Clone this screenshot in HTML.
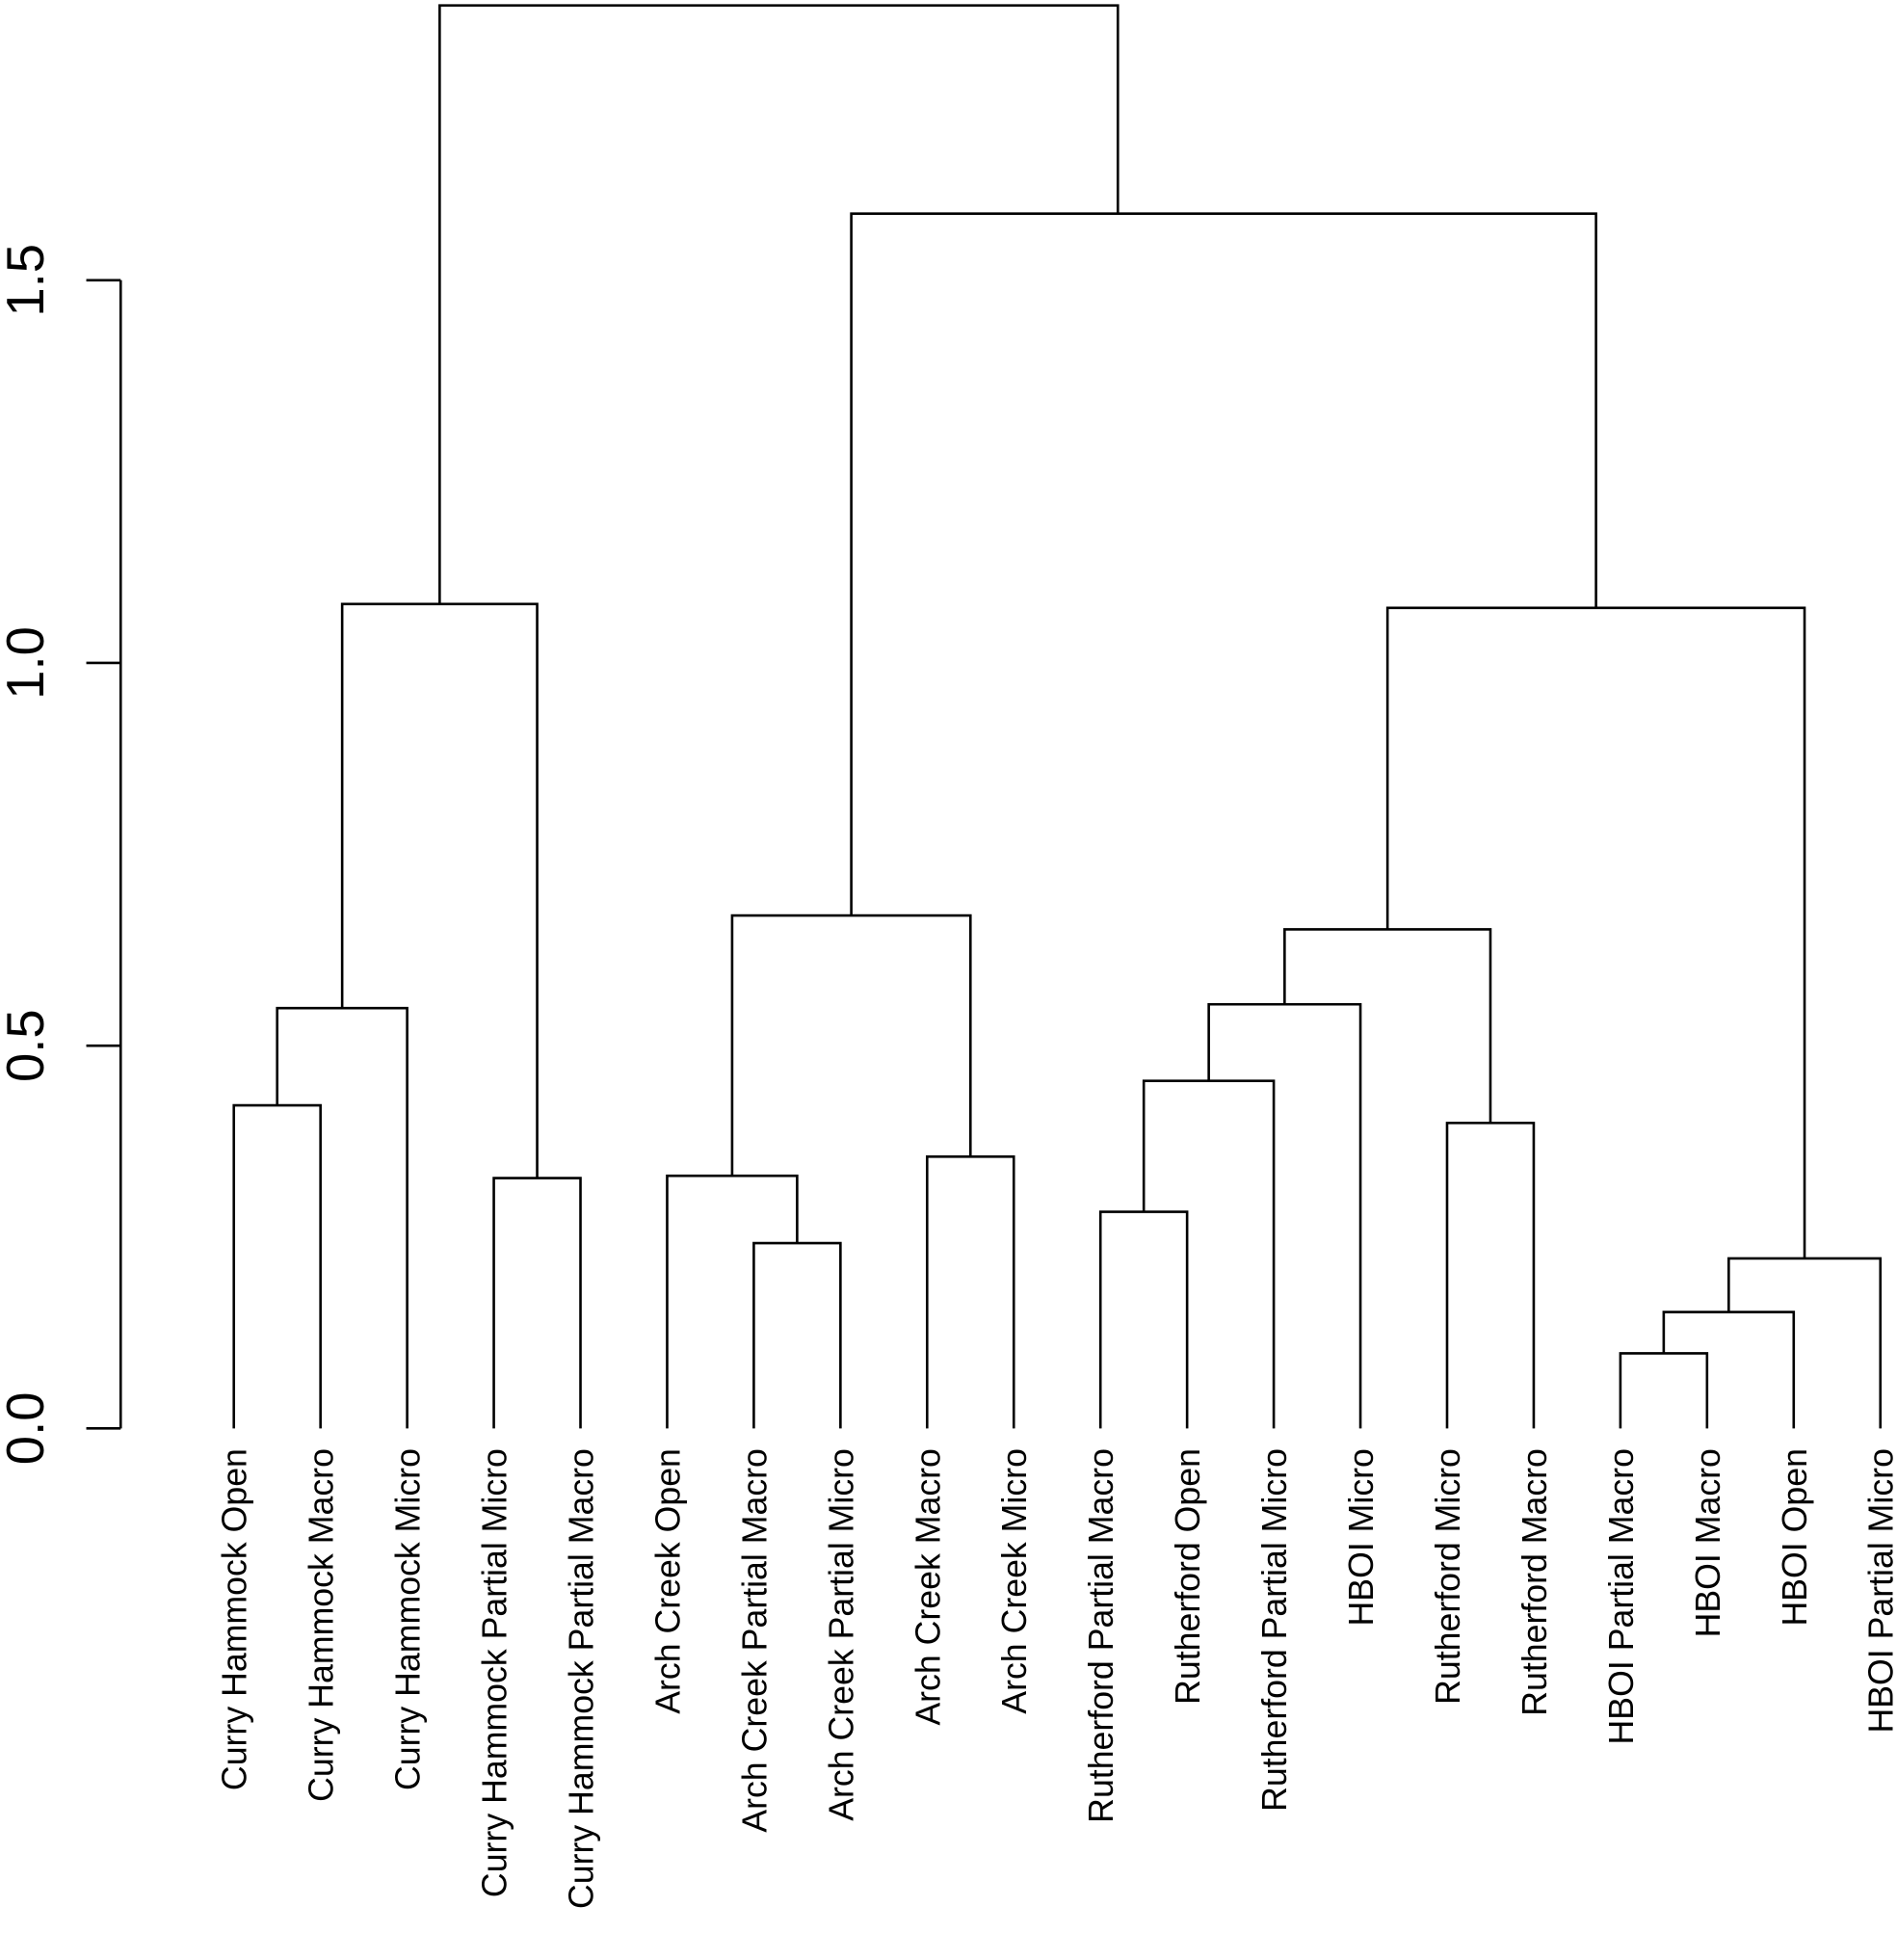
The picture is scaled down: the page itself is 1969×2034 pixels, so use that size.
<!DOCTYPE html>
<html><head><meta charset="utf-8"><style>
html,body{margin:0;padding:0;background:#fff;}
svg{display:block;font-family:"Liberation Sans",Arial,sans-serif;}
</style></head><body>
<svg id="chart" width="1969" height="2034" viewBox="0 0 1517 1567" xmlns="http://www.w3.org/2000/svg">
<g id="axis"></g>
<g id="tree" stroke="#000" stroke-width="2" fill="none"></g>
<g id="labels"></g>
</svg>
<script>
const leafLabels = ["Curry Hammock Open","Curry Hammock Macro","Curry Hammock Micro","Curry Hammock Partial Micro","Curry Hammock Partial Macro","Arch Creek Open","Arch Creek Partial Macro","Arch Creek Partial Micro","Arch Creek Macro","Arch Creek Micro","Rutherford Partial Macro","Rutherford Open","Rutherford Partial Micro","HBOI Micro","Rutherford Micro","Rutherford Macro","HBOI Partial Macro","HBOI Macro","HBOI Open","HBOI Partial Micro"];
// merges: negative = leaf index (-(i+1)), positive = merge number (1-based)
const mergeLeft  = [-1, 1, -4, 2, -7, -6, -9, 6, -11, 9, 10, -15, 11, -17, 14, 15, 13, 8, 4];
const mergeRight = [-2, -3, -5, 3, -8, 5, -10, 7, -12, -13, -14, -16, 12, -18, -19, -20, 16, 17, 18];
const mergeHeight= [0.422, 0.549, 0.327, 1.077, 0.242, 0.330, 0.355, 0.670, 0.283, 0.454, 0.554, 0.399, 0.652, 0.098, 0.152, 0.222, 1.072, 1.587, 1.859];
const yTicks = [0, 0.5, 1.0, 1.5];
const yTickLabels = ["0.0","0.5","1.0","1.5"];

const NS="http://www.w3.org/2000/svg";
const yScale = v => 1142 - v*612;
const xLeaf = i => 187 + i*69.3;
// layout tweak: attachment point offset (px) for merge node 18 as drawn in the reference
const attachShift = {18: -84.6};
const pos = [];
function nodeX(n){ return n<0 ? xLeaf(-n-1) : pos[n-1]; }
function nodeY(n){ return n<0 ? yScale(0) : yScale(mergeHeight[n-1]); }
const tree=document.getElementById('tree');
for(let k=0;k<mergeLeft.length;k++){
  const a=mergeLeft[k], b=mergeRight[k];
  const xa=nodeX(a), xb=nodeX(b), ya=nodeY(a), yb=nodeY(b), y=yScale(mergeHeight[k]);
  pos[k]=(xa+xb)/2 + (attachShift[k+1]||0);
  const p=document.createElementNS(NS,'path');
  p.setAttribute('d',`M${xa},${ya}V${y}H${xb}V${yb}`);
  
  
  tree.appendChild(p);
}
const labels=document.getElementById('labels');
leafLabels.forEach((t,i)=>{
  const x=xLeaf(i)+10, y=1158;
  const tx=document.createElementNS(NS,'text');
  tx.setAttribute('transform',`translate(${x},${y}) rotate(-90)`);
  tx.setAttribute('text-anchor','end');
  tx.setAttribute('font-size','27.5');
  tx.setAttribute('fill','#000');
  tx.textContent=t;
  
  
  labels.appendChild(tx);
});
const axis=document.getElementById('axis');
const al=document.createElementNS(NS,'path');
al.setAttribute('d',`M96.5,${yScale(yTicks[0])}V${yScale(yTicks[yTicks.length-1])}`);
al.setAttribute('stroke','#000');al.setAttribute('stroke-width','2');


axis.appendChild(al);
yTicks.forEach((v,i)=>{
  const y=yScale(v);
  const t=document.createElementNS(NS,'path');
  t.setAttribute('d',`M69,${y}H96.5`);
  t.setAttribute('stroke','#000');t.setAttribute('stroke-width','2');
  
  
  axis.appendChild(t);
  const tx=document.createElementNS(NS,'text');
  tx.setAttribute('transform',`translate(34.5,${y}) rotate(-90)`);
  tx.setAttribute('text-anchor','middle');
  tx.setAttribute('font-size','42');
  tx.textContent=yTickLabels[i];
  
  
  axis.appendChild(tx);
});
</script>
</body></html>
